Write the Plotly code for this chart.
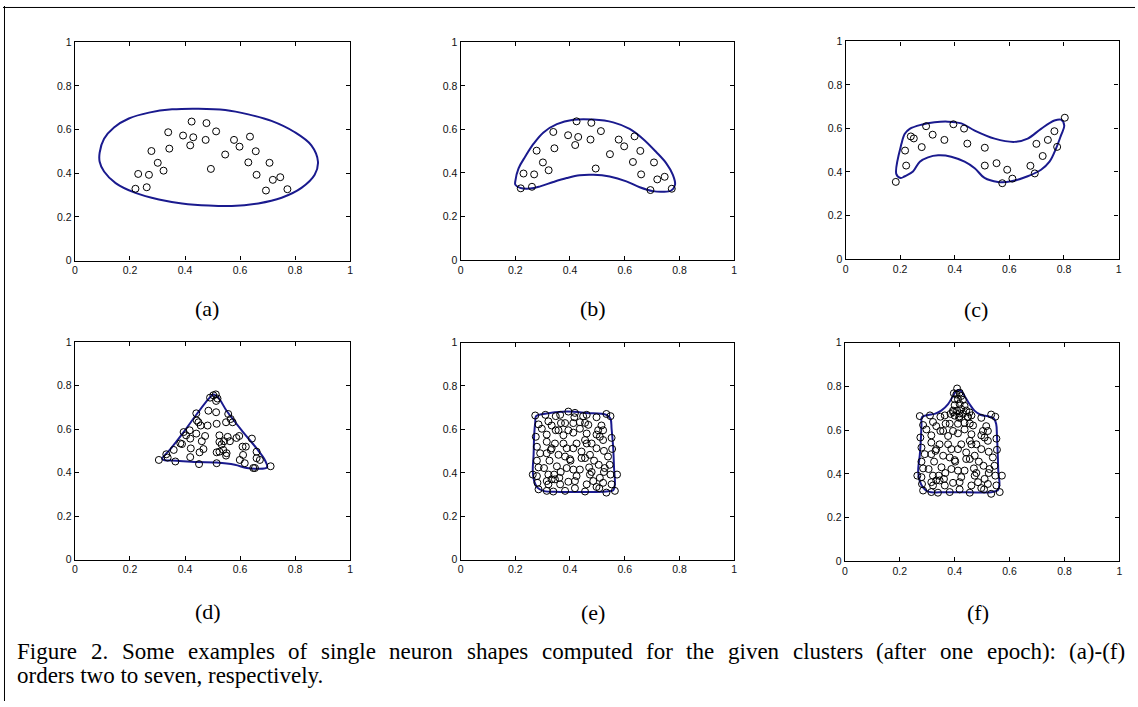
import plotly.graph_objects as go

# ---------------- data ----------------
# cluster used in panels (a) and (b)
c1_x = [0.220, 0.230, 0.261, 0.269, 0.278, 0.301, 0.322, 0.339, 0.343, 0.393,
        0.419, 0.424, 0.430, 0.475, 0.478, 0.494, 0.513, 0.546, 0.578, 0.598,
        0.630, 0.636, 0.657, 0.660, 0.694, 0.707, 0.719, 0.746, 0.772]
c1_y = [0.329, 0.397, 0.336, 0.393, 0.502, 0.448, 0.412, 0.588, 0.513, 0.573,
        0.528, 0.637, 0.565, 0.553, 0.630, 0.420, 0.592, 0.486, 0.553, 0.522,
        0.450, 0.568, 0.501, 0.393, 0.321, 0.448, 0.370, 0.382, 0.327]

# panel (a) neuron shape (order two: ellipse)
a_shape_x = [0.090, 0.106, 0.142, 0.196, 0.269, 0.353, 0.449, 0.546, 0.630, 0.714,
             0.799, 0.859, 0.883, 0.871, 0.823, 0.751, 0.666, 0.570, 0.486, 0.389,
             0.305, 0.220, 0.148, 0.106, 0.090]
a_shape_y = [0.495, 0.558, 0.610, 0.651, 0.678, 0.693, 0.696, 0.690, 0.670, 0.640,
             0.588, 0.528, 0.453, 0.393, 0.333, 0.288, 0.262, 0.250, 0.252, 0.262,
             0.280, 0.310, 0.355, 0.408, 0.453]

# panel (b) neuron shape
b_shape_x = [0.200, 0.212, 0.236, 0.267, 0.303, 0.352, 0.412, 0.485, 0.558, 0.618,
             0.667, 0.715, 0.752, 0.776, 0.784, 0.770, 0.739, 0.703, 0.655, 0.606,
             0.545, 0.485, 0.436, 0.388, 0.339, 0.291, 0.255, 0.218, 0.200]
b_shape_y = [0.361, 0.421, 0.474, 0.534, 0.586, 0.624, 0.644, 0.645, 0.632, 0.602,
             0.556, 0.496, 0.444, 0.391, 0.346, 0.319, 0.313, 0.316, 0.334, 0.361,
             0.383, 0.391, 0.389, 0.376, 0.358, 0.338, 0.328, 0.331, 0.346]

# panel (c) cluster and shape
c2_x = [0.184, 0.218, 0.222, 0.239, 0.250, 0.279, 0.295, 0.319, 0.362, 0.395,
        0.434, 0.446, 0.510, 0.510, 0.553, 0.574, 0.592, 0.611, 0.677, 0.693,
        0.699, 0.722, 0.741, 0.765, 0.775, 0.803]
c2_y = [0.354, 0.498, 0.429, 0.563, 0.554, 0.514, 0.610, 0.571, 0.547, 0.619,
        0.599, 0.530, 0.511, 0.429, 0.440, 0.348, 0.410, 0.369, 0.428, 0.393,
        0.529, 0.473, 0.547, 0.587, 0.515, 0.649]
c_shape_x = [0.186, 0.205, 0.217, 0.235, 0.278, 0.326, 0.375, 0.424, 0.473, 0.546,
             0.619, 0.667, 0.716, 0.765, 0.789, 0.801, 0.789, 0.771, 0.747, 0.716,
             0.667, 0.607, 0.558, 0.509, 0.473, 0.436, 0.387, 0.339, 0.302, 0.272,
             0.247, 0.217, 0.202]
c_shape_y = [0.390, 0.530, 0.575, 0.598, 0.617, 0.628, 0.631, 0.623, 0.590, 0.553,
             0.538, 0.553, 0.598, 0.636, 0.640, 0.613, 0.568, 0.508, 0.447, 0.410,
             0.380, 0.357, 0.354, 0.372, 0.417, 0.447, 0.470, 0.476, 0.467, 0.447,
             0.402, 0.380, 0.372]

# panel (d) cluster and shape
c3_x = [0.305, 0.332, 0.337, 0.365, 0.359, 0.383, 0.389, 0.395, 0.404, 0.419,
        0.417, 0.421, 0.419, 0.441, 0.443, 0.449, 0.441, 0.461, 0.467, 0.453,
        0.451, 0.457, 0.473, 0.482, 0.485, 0.513, 0.491, 0.503, 0.512, 0.518,
        0.513, 0.515, 0.525, 0.525, 0.515, 0.515, 0.533, 0.539, 0.551, 0.549,
        0.557, 0.549, 0.566, 0.555, 0.573, 0.563, 0.542, 0.587, 0.597, 0.609,
        0.621, 0.611, 0.599, 0.617, 0.643, 0.660, 0.660, 0.672, 0.648, 0.654,
        0.711, 0.525]
c3_y = [0.458, 0.484, 0.469, 0.451, 0.504, 0.534, 0.531, 0.586, 0.571, 0.556,
        0.594, 0.511, 0.471, 0.672, 0.639, 0.631, 0.579, 0.544, 0.508, 0.493,
        0.439, 0.616, 0.568, 0.616, 0.684, 0.677, 0.744, 0.755, 0.759, 0.740,
        0.729, 0.624, 0.571, 0.541, 0.493, 0.443, 0.529, 0.504, 0.489, 0.478,
        0.669, 0.631, 0.646, 0.564, 0.631, 0.544, 0.544, 0.559, 0.568, 0.519,
        0.519, 0.481, 0.458, 0.443, 0.556, 0.496, 0.466, 0.458, 0.421, 0.421,
        0.429, 0.496]
d_shape_x = [0.317, 0.347, 0.395, 0.443, 0.485, 0.503, 0.521, 0.551, 0.611, 0.660,
             0.690, 0.698, 0.660, 0.624, 0.581, 0.515, 0.443, 0.371, 0.323]
d_shape_y = [0.463, 0.508, 0.586, 0.669, 0.737, 0.759, 0.744, 0.684, 0.586, 0.511,
             0.458, 0.424, 0.418, 0.421, 0.436, 0.446, 0.448, 0.454, 0.458]

# panel (e) cluster (square) and shape
c4_x = [0.273, 0.310, 0.348, 0.364, 0.394, 0.418, 0.416, 0.448, 0.461, 0.497,
        0.533, 0.548, 0.285, 0.321, 0.333, 0.367, 0.382, 0.412, 0.436, 0.455,
        0.467, 0.515, 0.503, 0.521, 0.275, 0.315, 0.348, 0.358, 0.376, 0.394,
        0.412, 0.461, 0.497, 0.509, 0.552, 0.521, 0.315, 0.333, 0.345, 0.376,
        0.412, 0.424, 0.461, 0.455, 0.497, 0.524, 0.554, 0.279, 0.291, 0.279,
        0.330, 0.358, 0.382, 0.400, 0.402, 0.442, 0.442, 0.455, 0.488, 0.505,
        0.527, 0.545, 0.285, 0.305, 0.325, 0.352, 0.366, 0.412, 0.436, 0.470,
        0.479, 0.473, 0.524, 0.548, 0.572, 0.264, 0.279, 0.321, 0.342, 0.281,
        0.315, 0.321, 0.333, 0.345, 0.361, 0.394, 0.418, 0.461, 0.497, 0.507,
        0.521, 0.552, 0.285, 0.315, 0.339, 0.382, 0.418, 0.455, 0.533, 0.564,
        0.297, 0.436, 0.479, 0.388, 0.315, 0.473, 0.539, 0.388, 0.424, 0.509,
        0.364, 0.485]
c4_y = [0.664, 0.667, 0.661, 0.667, 0.682, 0.676, 0.656, 0.661, 0.667, 0.656,
        0.671, 0.661, 0.623, 0.637, 0.618, 0.629, 0.629, 0.629, 0.633, 0.630,
        0.621, 0.618, 0.596, 0.596, 0.566, 0.576, 0.596, 0.596, 0.573, 0.596,
        0.585, 0.581, 0.576, 0.566, 0.561, 0.551, 0.543, 0.513, 0.535, 0.535,
        0.513, 0.535, 0.535, 0.551, 0.513, 0.501, 0.510, 0.520, 0.490, 0.456,
        0.505, 0.483, 0.475, 0.463, 0.456, 0.498, 0.468, 0.468, 0.456, 0.437,
        0.422, 0.437, 0.425, 0.422, 0.456, 0.430, 0.404, 0.415, 0.415, 0.425,
        0.404, 0.392, 0.404, 0.392, 0.392, 0.392, 0.385, 0.392, 0.392, 0.354,
        0.362, 0.347, 0.370, 0.370, 0.377, 0.359, 0.362, 0.347, 0.335, 0.329,
        0.354, 0.347, 0.324, 0.317, 0.314, 0.317, 0.329, 0.314, 0.309, 0.317,
        0.603, 0.603, 0.535, 0.513, 0.490, 0.483, 0.475, 0.422, 0.385, 0.377,
        0.347, 0.362]
e_shape_x = [0.276, 0.303, 0.388, 0.461, 0.533, 0.548, 0.552, 0.558, 0.561, 0.564,
             0.558, 0.533, 0.448, 0.364, 0.303, 0.281, 0.269, 0.264, 0.267, 0.269,
             0.273]
e_shape_y = [0.661, 0.671, 0.682, 0.676, 0.667, 0.649, 0.603, 0.513, 0.422, 0.347,
             0.320, 0.314, 0.312, 0.312, 0.317, 0.332, 0.362, 0.407, 0.483, 0.573,
             0.633]

# panel (f): the square cluster plus an extra group on top
bump_x = [0.409, 0.397, 0.406, 0.418, 0.424, 0.400, 0.412, 0.430, 0.400, 0.418,
          0.436, 0.394, 0.409, 0.424, 0.442, 0.400, 0.418, 0.385, 0.454, 0.448,
          0.430]
bump_y = [0.790, 0.768, 0.763, 0.771, 0.756, 0.741, 0.741, 0.738, 0.714, 0.719,
          0.711, 0.689, 0.689, 0.696, 0.689, 0.666, 0.663, 0.674, 0.681, 0.659,
          0.674]
f_shape_x = [0.281, 0.303, 0.327, 0.351, 0.376, 0.394, 0.406, 0.414, 0.424, 0.436,
             0.454, 0.472, 0.496, 0.521, 0.542, 0.551, 0.554, 0.557, 0.559, 0.563,
             0.557, 0.533, 0.448, 0.364, 0.303, 0.285, 0.273, 0.267, 0.273, 0.277,
             0.279]
f_shape_y = [0.659, 0.669, 0.674, 0.689, 0.719, 0.756, 0.778, 0.783, 0.778, 0.756,
             0.719, 0.689, 0.669, 0.663, 0.654, 0.629, 0.576, 0.487, 0.412, 0.352,
             0.325, 0.316, 0.316, 0.316, 0.319, 0.337, 0.367, 0.412, 0.487, 0.561,
             0.621]

tick_vals = [0, 0.2, 0.4, 0.6, 0.8, 1]
tick_text = ["0", "0.2", "0.4", "0.6", "0.8", "1"]
panel_labels = ["(a)", "(b)", "(c)", "(d)", "(e)", "(f)"]
caption_lines = [
    "Figure 2. Some examples of single neuron shapes computed for the given clusters (after one epoch): (a)-(f)",
    "orders two to seven, respectively.",
]

panels = [
    (c1_x, c1_y, a_shape_x, a_shape_y),
    (c1_x, c1_y, b_shape_x, b_shape_y),
    (c2_x, c2_y, c_shape_x, c_shape_y),
    (c3_x, c3_y, d_shape_x, d_shape_y),
    (c4_x, c4_y, e_shape_x, e_shape_y),
    (c4_x + bump_x, c4_y + bump_y, f_shape_x, f_shape_y),
]

# ---------------- layout ----------------
W, H = 1138, 707
domains = [
    ([0.0635, 0.3067], [0.6337, 0.9477]),
    ([0.4042, 0.6459], [0.6347, 0.9477]),
    ([0.7443, 0.9855], [0.6361, 0.9491]),
    ([0.0635, 0.3067], [0.2033, 0.5167]),
    ([0.4042, 0.6459], [0.2033, 0.5158]),
    ([0.7437, 0.9862], [0.2008, 0.5158]),
]
label_pos = [(205, 308), (593, 308), (978, 309), (206, 616), (593, 617), (980, 617)]

SHAPE_COLOR = "#1a1a8e"
fig = go.Figure()
layout = dict(
    width=W, height=H, autosize=False,
    margin=dict(l=0, r=0, t=0, b=0),
    paper_bgcolor="white", plot_bgcolor="white",
    showlegend=False,
)

axis_common = dict(
    range=[0, 1], tickvals=tick_vals, ticktext=tick_text,
    ticks="inside", ticklen=4, tickwidth=1, tickcolor="black",
    showline=True, linecolor="black", linewidth=1.3, mirror="ticks",
    showgrid=False, zeroline=False,
    tickfont=dict(family="Liberation Sans, Arial", size=10.5, color="#111"),
    fixedrange=True,
)

for i, (px, py, sx, sy) in enumerate(panels):
    n = "" if i == 0 else str(i + 1)
    xa, ya = "x" + n, "y" + n
    # close the outline (identical first/last point -> smooth closed spline)
    sx_c = list(sx) + [sx[0]]
    sy_c = list(sy) + [sy[0]]
    fig.add_trace(go.Scatter(
        x=sx_c, y=sy_c, mode="lines", xaxis=xa, yaxis=ya,
        line=dict(color=SHAPE_COLOR, width=2, shape="spline", smoothing=1.0),
        hoverinfo="skip"))
    fig.add_trace(go.Scatter(
        x=px, y=py, mode="markers", xaxis=xa, yaxis=ya,
        marker=dict(symbol="circle-open", size=7, color="black",
                    line=dict(width=1, color="black"))))
    dx, dy = domains[i]
    layout["xaxis" + n] = dict(axis_common, domain=dx, anchor=ya)
    layout["yaxis" + n] = dict(axis_common, domain=dy, anchor=xa)

SERIF = "Liberation Serif, Times New Roman"
annotations = []
for lab, (lx, ly) in zip(panel_labels, label_pos):
    annotations.append(dict(
        text=lab, x=lx / W, y=1 - ly / H, xref="paper", yref="paper",
        xanchor="center", yanchor="middle", showarrow=False,
        font=dict(family=SERIF, size=22, color="black")))

# caption: first line justified to full width, second line left aligned
CAP_SIZE = 23
CAP_LEFT, CAP_RIGHT = 12, 1126
# Times New Roman advance widths (1/1000 em)
tnr = {' ': 250, 'F': 556, 'S': 556, 'i': 278, 'g': 500, 'u': 500, 'r': 333,
       'e': 444, '2': 500, '.': 250, 'o': 500, 'm': 778, 'x': 500, 'a': 444,
       'p': 500, 'l': 278, 's': 389, 'f': 333, 'n': 500, 'h': 500, 'c': 444,
       't': 278, 'd': 500, 'v': 500, '(': 333, ')': 333, ':': 278, '-': 333,
       'y': 500, 'w': 722, ',': 250}


def text_width(s):
    return sum(tnr.get(ch, 500) for ch in s) / 1000.0 * CAP_SIZE


words = caption_lines[0].split(" ")
total_words = sum(text_width(w) for w in words)
gap = (CAP_RIGHT - CAP_LEFT - total_words) / (len(words) - 1)
xpos = CAP_LEFT
for w in words:
    annotations.append(dict(
        text=w, x=xpos / W, y=1 - 657 / H, xref="paper", yref="paper",
        xanchor="left", yanchor="middle", showarrow=False,
        font=dict(family=SERIF, size=CAP_SIZE, color="black")))
    xpos += text_width(w) + gap
annotations.append(dict(
    text=caption_lines[1], x=CAP_LEFT / W, y=1 - 681 / H, xref="paper", yref="paper",
    xanchor="left", yanchor="middle", showarrow=False,
    font=dict(family=SERIF, size=CAP_SIZE, color="black")))
layout["annotations"] = annotations

layout["shapes"] = [
    dict(type="line", xref="paper", yref="paper", x0=1.5 / W, x1=1.5 / W, y0=0, y1=1,
         line=dict(color="black", width=1)),
    dict(type="line", xref="paper", yref="paper", x0=0, x1=1, y0=1 - 1.5 / H, y1=1 - 1.5 / H,
         line=dict(color="black", width=1)),
]

fig.update_layout(**layout)
fig.write_html("out.html")
